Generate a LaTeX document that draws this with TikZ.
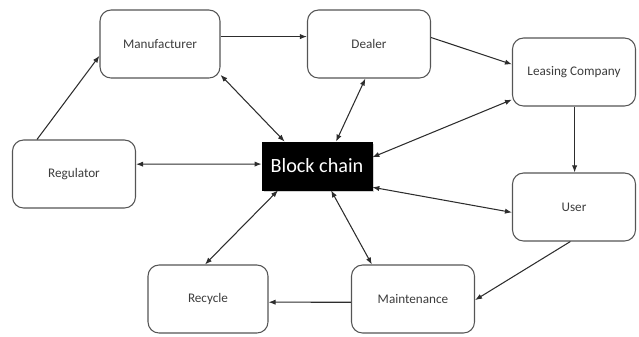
\documentclass[tikz,border=0pt]{standalone}
\usepackage{fontspec}
\setmainfont{Carlito}
\usepackage{xcolor}
\definecolor{boxgray}{RGB}{85,85,85}
\definecolor{textgray}{RGB}{60,60,60}
\definecolor{linegray}{RGB}{45,45,45}
\usepackage{tikz}
\usetikzlibrary{arrows.meta}
\usetikzlibrary{shadows}
\newcommand{\widthbox}{2.4cm}
\newcommand{\heightbox}{1.36cm}
\tikzset{
    common/.style={draw=boxgray, line width=0.6pt, rectangle, text=textgray, font=\fontsize{7.5}{9}\selectfont},
    party/.style={common, rounded corners=0.22cm, minimum width=\widthbox, minimum height=\heightbox},
    wide/.style={party, minimum width=2.46cm},
    chain/.style={draw=black, fill=black, text=white, minimum width=2.2cm, minimum height=0.96cm,
        font=\fontsize{11.5}{13}\selectfont,
        drop shadow={shadow xshift=1.2pt, shadow yshift=-1.4pt, fill=gray!35, opacity=1}},
    link/.style={linegray, line width=0.6pt, -{Latex[length=4pt,width=3pt]}},
    twoway/.style={link, {Latex[length=4pt,width=3pt]}-{Latex[length=4pt,width=3pt]}}
}
\begin{document}
\begin{tikzpicture}[x=0.02cm, y=-0.02cm]
            \useasboundingbox (0,0) rectangle (639,336);
            \path
                (160,44) node[party] (manufacturer) {Manufacturer}
                (369,44) node[wide] (dealer) {Dealer}
                (574,72) node[wide] (leasing-company) {Leasing Company}
                (74,174) node[wide] (regulator) {Regulator}
                (574,207) node[wide] (user) {User}
                (208,299) node[party] (recycle) {Recycle}
                (413,299) node[wide] (maintenance) {Maintenance};
            \node[chain] (block-chain) at (317,166) {Block chain};

            % one-way flows
            \draw[link] (regulator.137) -- (manufacturer.191);
            \draw[link] (manufacturer.7) -- (manufacturer.7 -| dealer.west);
            \draw[link] (dealer.6) -- (leasing-company.173);
            \draw[link] (leasing-company.271) -- (user.89);
            \draw[link] (user.264) -- (maintenance.359);
            \draw[link] (maintenance.183) -- (recycle.357);

            % everyone talks to the chain
            \draw[twoway] (manufacturer.333) -- (block-chain.143);
            \draw[twoway] (regulator.9) -- (block-chain.178);
            \draw[twoway] (dealer.264) -- (block-chain.52);
            \draw[twoway] (leasing-company.204) -- (block-chain.9);
            \draw[twoway] (user.185) -- (block-chain.339);
            \draw[twoway] (maintenance.140) -- (block-chain.300);
            \draw[twoway] (recycle.95) -- (block-chain.212);
\end{tikzpicture}
\end{document}
